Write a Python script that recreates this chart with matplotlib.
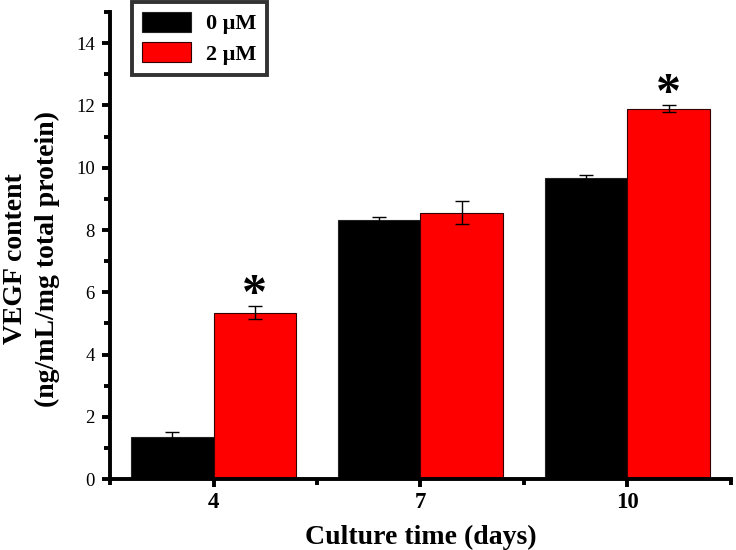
import matplotlib.pyplot as plt
import numpy as np

plt.rcParams['font.family'] = ['Liberation Serif', 'DejaVu Serif']

# Datos
dias = [4, 7, 10]
etiquetas = ['4', '7', '10']
control = [1.35, 8.33, 9.67]        # 0 uM
control_err = [0.15, 0.1, 0.1]
tratado = [5.35, 8.55, 11.9]        # 2 uM
tratado_err = [0.2, 0.37, 0.1]
significativo = [True, False, True]

fig = plt.figure(figsize=(7.36, 5.5), dpi=100)
ax = fig.add_axes([0.1495, 0.129, 0.8435, 0.849])

x = np.array(dias, dtype=float)
ancho = 1.2
ax.bar(x - ancho / 2, control, ancho, color='black', edgecolor='#222222', linewidth=0.8,
       yerr=control_err, error_kw=dict(ecolor='black', elinewidth=1, capsize=5, capthick=1),
       label='0 μM')
ax.bar(x + ancho / 2, tratado, ancho, color='#ff0000', edgecolor='#330000', linewidth=0.8,
       yerr=tratado_err, error_kw=dict(ecolor='black', elinewidth=1, capsize=5, capthick=1),
       label='2 μM')

# Asteriscos de significancia
for xi, v, e, s in zip(x, tratado, tratado_err, significativo):
    if s:
        ax.text(xi + ancho / 2, v + e + 0.33, '*', ha='center', va='center',
                fontsize=36, fontweight='bold')

ax.set_xlim(2.5, 11.5)
ax.set_ylim(0, 15)
ax.set_xticks(dias)
ax.set_xticklabels(etiquetas, fontweight='bold', fontsize=16.5)
ax.set_xticks([2.5, 5.5, 8.5, 11.5], minor=True)
ax.set_yticks(np.arange(0, 15, 2))
ax.set_yticks(np.arange(1, 16, 2), minor=True)
ax.tick_params(axis='y', labelsize=13.5, pad=5)

for lado in ['top', 'right']:
    ax.spines[lado].set_visible(False)
for lado in ['left', 'bottom']:
    ax.spines[lado].set_linewidth(2.8)
ax.tick_params(which='major', direction='out', length=6, width=2.8)
ax.tick_params(which='minor', direction='out', length=4, width=2.8)
ax.tick_params(axis='x', pad=3)

ax.set_xlabel('Culture time (days)', fontsize=20, fontweight='bold', labelpad=9)
ax.set_ylabel('VEGF content\n(ng/mL/mg total protein)', fontsize=20, fontweight='bold',
              linespacing=1.4)
ax.yaxis.set_label_coords(-0.08, 0.471)

leg = ax.legend(loc='upper left', bbox_to_anchor=(0.0354, 1.022), frameon=True, fancybox=False,
                edgecolor='black', prop={'weight': 'bold', 'size': 16},
                handlelength=2.2, handleheight=1.0, handletextpad=0.7,
                borderpad=0.45, labelspacing=0.35, borderaxespad=0)
leg.get_frame().set_linewidth(2.8)

fig.savefig('out.png', dpi=100)
